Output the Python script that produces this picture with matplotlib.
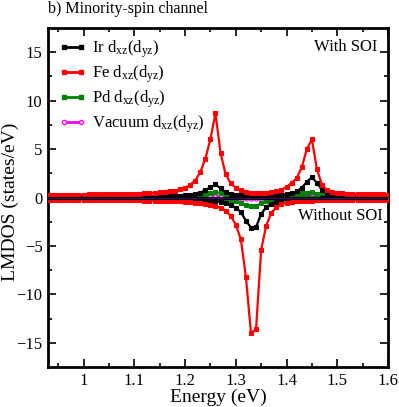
import numpy as np
import matplotlib
matplotlib.use("Agg")
import matplotlib.pyplot as plt
from matplotlib.lines import Line2D

plt.rcParams['font.family'] = ['Liberation Serif', 'DejaVu Serif']
plt.rcParams['mathtext.fontset'] = 'custom'
plt.rcParams['mathtext.rm'] = 'Liberation Serif'
plt.rcParams['mathtext.it'] = 'Liberation Serif:italic'

# Energy grid (eV)
energy = np.round(np.arange(0.93, 1.6001, 0.01), 2)

# With SOI (positive side)
fe_soi = [0.30, 0.30, 0.30, 0.30, 0.30, 0.30, 0.30,
          0.30, 0.31, 0.32, 0.32, 0.33, 0.33, 0.34, 0.35, 0.36, 0.37,
          0.38, 0.40, 0.42, 0.45, 0.48, 0.52, 0.57, 0.63, 0.72, 0.85,
          1.00, 1.30, 1.75, 2.60, 4.00, 6.00, 8.70, 4.60, 2.40, 1.45,
          1.00, 0.78, 0.60, 0.50, 0.47, 0.47, 0.50, 0.55, 0.65, 0.80,
          1.10, 1.50, 2.00, 3.10, 5.00, 6.00, 2.90, 1.30, 0.75, 0.55,
          0.48, 0.43, 0.40, 0.38, 0.36, 0.35, 0.34, 0.33, 0.32, 0.31,
          0.30]
ir_soi = [0.10, 0.10, 0.10, 0.10, 0.10, 0.10, 0.10,
          0.10, 0.10, 0.10, 0.10, 0.10, 0.10, 0.10, 0.10, 0.10, 0.10,
          0.10, 0.10, 0.11, 0.11, 0.12, 0.12, 0.13, 0.14, 0.16, 0.18,
          0.22, 0.28, 0.36, 0.50, 0.75, 1.05, 1.35, 0.95, 0.55, 0.38,
          0.28, 0.22, 0.18, 0.16, 0.15, 0.15, 0.16, 0.18, 0.22, 0.28,
          0.35, 0.45, 0.62, 1.00, 1.60, 2.10, 1.50, 0.80, 0.42, 0.28,
          0.20, 0.16, 0.14, 0.12, 0.11, 0.10, 0.10, 0.10, 0.10, 0.10,
          0.10]
pd_soi = [0.05, 0.05, 0.05, 0.05, 0.05, 0.05, 0.05,
          0.05, 0.05, 0.05, 0.05, 0.05, 0.05, 0.05, 0.05, 0.05, 0.05,
          0.05, 0.05, 0.05, 0.05, 0.05, 0.06, 0.07, 0.08, 0.09, 0.10,
          0.12, 0.15, 0.20, 0.27, 0.38, 0.50, 0.58, 0.45, 0.30, 0.20,
          0.15, 0.12, 0.10, 0.09, 0.09, 0.09, 0.10, 0.11, 0.13, 0.16,
          0.20, 0.25, 0.32, 0.42, 0.50, 0.52, 0.40, 0.25, 0.16, 0.12,
          0.10, 0.08, 0.07, 0.06, 0.06, 0.05, 0.05, 0.05, 0.05, 0.05,
          0.05]
vac_soi = [0.15, 0.15, 0.15, 0.15, 0.15, 0.15, 0.15,
           0.15, 0.15, 0.15, 0.15, 0.15, 0.15, 0.15, 0.15, 0.15, 0.15,
           0.15, 0.15, 0.15, 0.15, 0.15, 0.15, 0.15, 0.15, 0.15, 0.15,
           0.15, 0.15, 0.15, 0.15, 0.15, 0.16, 0.16, 0.16, 0.15, 0.15,
           0.15, 0.15, 0.15, 0.15, 0.15, 0.15, 0.15, 0.15, 0.15, 0.15,
           0.15, 0.15, 0.15, 0.15, 0.16, 0.16, 0.15, 0.15, 0.15, 0.15,
           0.15, 0.15, 0.15, 0.15, 0.15, 0.15, 0.15, 0.15, 0.15, 0.15,
           0.15]

# Without SOI (negative side)
fe_nosoi = [-0.30, -0.30, -0.30, -0.30, -0.30, -0.30, -0.30,
            -0.30, -0.30, -0.30, -0.30, -0.30, -0.30, -0.30, -0.30, -0.30, -0.30,
            -0.30, -0.30, -0.31, -0.31, -0.32, -0.33, -0.34, -0.35, -0.37, -0.40,
            -0.43, -0.47, -0.52, -0.58, -0.66, -0.76, -0.90, -1.05, -1.35, -1.90,
            -2.80, -4.30, -8.20, -14.00, -13.60, -5.40, -2.90, -1.60, -1.00, -0.70,
            -0.52, -0.42, -0.37, -0.34, -0.32, -0.31, -0.30, -0.30, -0.30, -0.30,
            -0.30, -0.30, -0.30, -0.30, -0.30, -0.30, -0.30, -0.30, -0.30, -0.30,
            -0.30]
ir_nosoi = [-0.10, -0.10, -0.10, -0.10, -0.10, -0.10, -0.10,
            -0.10, -0.10, -0.10, -0.10, -0.10, -0.10, -0.10, -0.10, -0.10, -0.10,
            -0.10, -0.10, -0.10, -0.10, -0.10, -0.11, -0.11, -0.12, -0.13, -0.14,
            -0.15, -0.17, -0.19, -0.22, -0.26, -0.30, -0.36, -0.45, -0.58, -0.78,
            -1.05, -1.50, -2.40, -3.10, -3.05, -1.70, -1.00, -0.65, -0.45, -0.33,
            -0.26, -0.21, -0.18, -0.15, -0.13, -0.12, -0.11, -0.10, -0.10, -0.10,
            -0.10, -0.10, -0.10, -0.10, -0.10, -0.10, -0.10, -0.10, -0.10, -0.10,
            -0.10]
pd_nosoi = [-0.05, -0.05, -0.05, -0.05, -0.05, -0.05, -0.05,
            -0.05, -0.05, -0.05, -0.05, -0.05, -0.05, -0.05, -0.05, -0.05, -0.05,
            -0.05, -0.05, -0.05, -0.05, -0.05, -0.05, -0.06, -0.06, -0.07, -0.07,
            -0.08, -0.09, -0.10, -0.11, -0.12, -0.14, -0.16, -0.19, -0.23, -0.30,
            -0.40, -0.55, -0.75, -0.92, -0.88, -0.60, -0.38, -0.24, -0.16, -0.12,
            -0.09, -0.08, -0.07, -0.06, -0.06, -0.05, -0.05, -0.05, -0.05, -0.05,
            -0.05, -0.05, -0.05, -0.05, -0.05, -0.05, -0.05, -0.05, -0.05, -0.05,
            -0.05]
vac_nosoi = [-0.15, -0.15, -0.15, -0.15, -0.15, -0.15, -0.15,
             -0.15, -0.15, -0.15, -0.15, -0.15, -0.15, -0.15, -0.15, -0.15, -0.15,
             -0.15, -0.15, -0.15, -0.15, -0.15, -0.15, -0.15, -0.15, -0.15, -0.15,
             -0.15, -0.15, -0.15, -0.15, -0.15, -0.15, -0.15, -0.15, -0.15, -0.16,
             -0.16, -0.17, -0.18, -0.19, -0.19, -0.17, -0.16, -0.15, -0.15, -0.15,
             -0.15, -0.15, -0.15, -0.15, -0.15, -0.15, -0.15, -0.15, -0.15, -0.15,
             -0.15, -0.15, -0.15, -0.15, -0.15, -0.15, -0.15, -0.15, -0.15, -0.15,
             -0.15]

labels = [r"Ir d$_{\rm xz}$(d$_{\rm yz}$)", r"Fe d$_{\rm xz}$(d$_{\rm yz}$)",
          r"Pd d$_{\rm xz}$(d$_{\rm yz}$)", r"Vacuum d$_{\rm xz}$(d$_{\rm yz}$)"]
colors = ["black", "red", "#008000", "magenta"]
x_ticks = [1.0, 1.1, 1.2, 1.3, 1.4, 1.5, 1.6]
x_ticklabels = ["1", "1.1", "1.2", "1.3", "1.4", "1.5", "1.6"]
y_ticks = [-15, -10, -5, 0, 5, 10, 15]

fig = plt.figure(figsize=(3.99, 4.07), dpi=100)
ax = fig.add_axes([48/399, 1-367/407, 340/399, 339/407])

series_soi = [ir_soi, fe_soi, pd_soi, vac_soi]
series_nosoi = [ir_nosoi, fe_nosoi, pd_nosoi, vac_nosoi]
markers = ['s', 's', 's', 'o']
order = [3, 2, 0, 1]
for i in order:
    mfc = 'white' if markers[i] == 'o' else colors[i]
    for ser in (series_soi[i], series_nosoi[i]):
        ax.plot(energy, ser, color=colors[i], lw=1.6, marker=markers[i],
                ms=2.4, mfc=mfc, mec=colors[i], mew=0.8, zorder=3 + (i == 1))

ax.axhline(0, color='black', lw=2.2, zorder=6)
ax.axhline(0, color='#4b0082', lw=0.6, zorder=7)

ax.set_xlim(0.93, 1.6)
ax.set_ylim(-17.5, 17.5)
ax.set_xticks(x_ticks)
ax.set_xticklabels(x_ticklabels)
ax.set_xticks([0.95, 1.05, 1.15, 1.25, 1.35, 1.45, 1.55], minor=True)
ax.set_yticks(y_ticks)
ax.set_yticks([-12.5, -7.5, -2.5, 2.5, 7.5, 12.5], minor=True)
ax.tick_params(which='both', direction='in', top=True, right=True, labelsize=12, width=1.2)
ax.tick_params(which='major', length=6, pad=4)
ax.tick_params(which='minor', length=3)
for s in ax.spines.values():
    s.set_linewidth(2.0)

ax.set_xlabel("Energy (eV)", fontsize=14, labelpad=0)
fig.text(10/399, 1-202/407, "LMDOS (states/eV)", rotation=90, ha='center', va='center',
         fontsize=14)

handles = []
for i in range(4):
    mfc = 'white' if markers[i] == 'o' else colors[i]
    handles.append(Line2D([], [], color=colors[i], lw=2, marker=markers[i], ms=3,
                          mfc=mfc, mec=colors[i], mew=1))
leg = ax.legend(handles, labels, loc='upper left', bbox_to_anchor=(0.0, 1.0),
                frameon=False, fontsize=12, numpoints=2, handlelength=1.6,
                handletextpad=0.4, labelspacing=0.2, borderaxespad=0.25)

ax.text(0.97, 0.945, "With SOI", transform=ax.transAxes, ha='right', va='center', fontsize=12)
ax.text(0.985, 0.445, "Without SOI", transform=ax.transAxes, ha='right', va='center', fontsize=12)

fig.text(48/399, 1-9/407, "b) Minority-spin channel", ha='left', va='center', fontsize=11.5)

fig.savefig("out.png", dpi=100)
